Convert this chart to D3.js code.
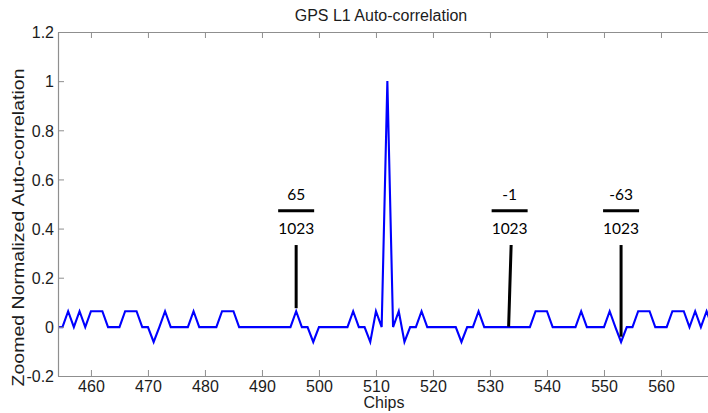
<!DOCTYPE html>
<html><head><meta charset="utf-8">
<script src="https://cdn.jsdelivr.net/npm/d3@7"></script>
<style>
html,body{margin:0;padding:0;background:#fff;}
svg{display:block;}
</style></head>
<body>
<script>
// ---- data ----
const chipStart = 454;
// correlation numerators (value = n / 1023), one per chip from 454 to 569
const corrNumerators = [
 -1,-1,65,-1,65,-1,65,65,65,-1,   // 454-463
 -1,-1,65,65,65,-1,-1,-63,-1,65,  // 464-473
 -1,-1,-1,-1,65,-1,-1,-1,-1,65,   // 474-483
 65,65,-1,-1,-1,-1,-1,-1,-1,-1,   // 484-493
 -1,-1,65,-1,-1,-63,-1,-1,-1,-1,  // 494-503
 -1,-1,65,-1,-1,-63,65,-1,1023,-1,// 504-513
 65,-63,-1,-1,65,-1,-1,-1,-1,-1,  // 514-523
 -1,-63,-1,-1,65,-1,-1,-1,-1,-1,  // 524-533
 -1,-1,-1,-1,65,65,65,-1,-1,-1,   // 534-543
 -1,-1,65,-1,-1,-1,-1,65,-1,-63,  // 544-553
 -1,-1,65,65,65,-1,-1,-1,65,65,   // 554-563
 65,-1,65,-1,65,-1                // 564-569
];
const codeLength = 1023;
const chips = corrNumerators.map((n,i)=>chipStart+i);
const values = corrNumerators.map(n=>n/codeLength);

const xTicks = [460,470,480,490,500,510,520,530,540,550,560];
const yTicks = [-0.2,0,0.2,0.4,0.6,0.8,1,1.2];
const xDomain = [454.22, 568.25];
const yDomain = [-0.2, 1.2];

const annChips = [496, 533.45, 553];
const annNumerators = ["65","-1","-63"];
const annDenominators = ["1023","1023","1023"];
const annTipValues = [0.076, 0.001, -0.04];

const titleText = "GPS L1 Auto-correlation";
const xLabelText = "Chips";
const yLabelText = "Zoomed Normalized Auto-correlation";

// ---- layout ----
const W = 708, H = 413;
const mL = 58, mR = 708, mT = 32, mB = 376;
const svg = d3.select("body").append("svg").attr("width",W).attr("height",H);

const x = d3.scaleLinear().domain(xDomain).range([mL,mR]);
const y = d3.scaleLinear().domain(yDomain).range([mB,mT]);

const axisColor = "#8f8f8f";
const textColor = "#1c1c1c";
const font = "'Liberation Sans', Arial, sans-serif";

svg.append("defs").append("clipPath").attr("id","clip")
  .append("rect").attr("x",mL).attr("y",mT).attr("width",mR-mL).attr("height",mB-mT);

// line
svg.append("path")
  .datum(chips.map((c,i)=>[c,values[i]]))
  .attr("clip-path","url(#clip)")
  .attr("fill","none").attr("stroke","#0000ff").attr("stroke-width",2.1)
  .attr("stroke-linejoin","miter")
  .attr("d", d3.line().x(d=>x(d[0])).y(d=>y(d[1])));

// axes
const gBottom = svg.append("g").attr("transform",`translate(0,${mB})`)
  .call(d3.axisBottom(x).tickValues(xTicks).tickSizeInner(-6).tickSizeOuter(0).tickPadding(5).tickFormat(d3.format("d")));
const gTop = svg.append("g").attr("transform",`translate(0,${mT})`)
  .call(d3.axisTop(x).tickValues(xTicks).tickSizeInner(-6).tickSizeOuter(0).tickFormat(""));
const gLeft = svg.append("g").attr("transform",`translate(${mL},0)`)
  .call(d3.axisLeft(y).tickValues(yTicks).tickSizeInner(-6).tickSizeOuter(0).tickPadding(4).tickFormat(d=>String(+d.toFixed(1))));

[gBottom,gTop,gLeft].forEach(g=>{
  g.select(".domain").attr("stroke",axisColor).attr("stroke-width",1.2);
  g.selectAll(".tick line").attr("stroke",axisColor).attr("stroke-width",1);
  g.selectAll(".tick text").attr("fill",textColor).style("font-family",font).style("font-size","16px");
});
gBottom.selectAll(".tick text").attr("dy","0.71em");
gLeft.selectAll(".tick text").attr("dy","0.36em");

// title & labels
svg.append("text").attr("x",(mL+mR)/2 - 2).attr("y",21).attr("text-anchor","middle")
  .style("font-family",font).style("font-size","16px").attr("fill",textColor).text(titleText);
svg.append("text").attr("x",(mL+mR)/2 + 1).attr("y",408).attr("text-anchor","middle")
  .style("font-family",font).style("font-size","16px").attr("fill",textColor).text(xLabelText);
svg.append("text").attr("transform",`translate(24,${(67+388)/2}) rotate(-90)`).attr("text-anchor","middle")
  .style("font-family",font).style("font-size","16.5px").attr("fill",textColor)
  .attr("textLength",318).attr("lengthAdjust","spacingAndGlyphs").text(yLabelText);

// annotations
const annFont = "Lato, 'Open Sans', sans-serif";
const annG = svg.append("g");
annChips.forEach((c,i)=>{
  const cx = x(c);
  annG.append("text").attr("x",cx).attr("y",y(0.516)).attr("text-anchor","middle")
    .style("font-family",annFont).style("font-size","15.5px").attr("fill","#000").text(annNumerators[i]);
  annG.append("line").attr("x1",cx-18).attr("x2",cx+18).attr("y1",y(0.473)).attr("y2",y(0.473))
    .attr("stroke","#000").attr("stroke-width",3);
  annG.append("text").attr("x",cx).attr("y",y(0.376)).attr("text-anchor","middle")
    .style("font-family",annFont).style("font-size","15.5px").attr("fill","#000").text(annDenominators[i]);
  annG.append("line").attr("x1",cx + (i===1?1.5:0)).attr("x2",cx - (i===1?1:0))
    .attr("y1",y(0.333)).attr("y2",y(annTipValues[i]))
    .attr("stroke","#000").attr("stroke-width",3);
});
</script>
</body></html>
